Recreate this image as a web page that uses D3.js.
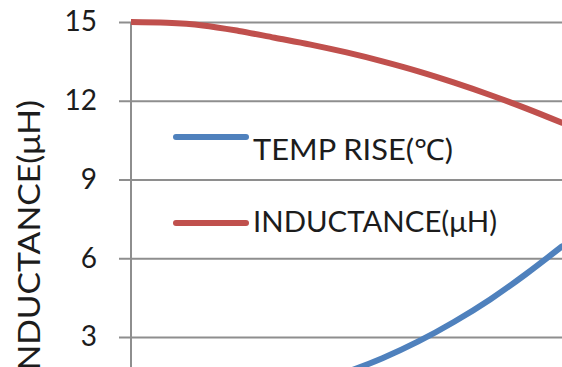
<!DOCTYPE html>
<html>
<head>
<meta charset="utf-8">
<script src="https://cdn.jsdelivr.net/npm/d3@7"></script>
<style>
  html, body { margin: 0; padding: 0; background: #fff; }
  svg { display: block; }
  text { font-family: Lato, "Open Sans", sans-serif; fill: #1c1c1c; }
</style>
</head>
<body>
<script>
// ---- data ----
const xValues = [0, 0.5, 1, 1.5, 2, 2.5, 3, 3.5, 4, 4.5, 5, 5.5, 6];
const inductance = [15.0, 14.97, 14.87, 14.66, 14.40, 14.14, 13.84, 13.50, 13.12, 12.69, 12.22, 11.71, 11.16];
const tempRise = [0, 0.12, 0.3, 0.55, 0.85, 1.22, 1.66, 2.19, 2.83, 3.58, 4.43, 5.40, 6.45];
const yTicks = [3, 6, 9, 12, 15];
const seriesNames = ["TEMP RISE(\u2103)", "INDUCTANCE(\u03bcH)"];
const seriesColors = ["#4F81BD", "#C0504D"];
const yTitle = "INDUCTANCE(\u03bcH)";

const W = 562, H = 367;
const svg = d3.select("body").append("svg").attr("width", W).attr("height", H);

const x0 = 131, x1 = 562;
const x = d3.scaleLinear().domain([0, 6]).range([x0, x1]);
const y = d3.scaleLinear().domain([0, 15]).range([415.7, 22]);

// gridlines + tick marks + labels
const axis = d3.axisLeft(y).tickValues(yTicks).tickSize(-(x1 - 119)).tickPadding(22).tickFormat(d3.format("d"));
const gAxis = svg.append("g").attr("transform", "translate(119,0)").call(axis);
gAxis.select(".domain").remove();
gAxis.selectAll(".tick line").attr("stroke", "#8e8e8e").attr("stroke-width", 2);
gAxis.selectAll(".tick text").attr("font-size", 28).attr("fill", "#1c1c1c").attr("font-family", "Lato, sans-serif");

// vertical axis line
svg.append("line").attr("x1", x0).attr("x2", x0).attr("y1", y(15)).attr("y2", H + 5)
  .attr("stroke", "#8e8e8e").attr("stroke-width", 2);

// y title (cut off at the bottom edge, as in the reference)
svg.append("text")
  .attr("transform", "translate(40,100) rotate(-90)")
  .attr("text-anchor", "end")
  .attr("font-size", 30)
  .attr("textLength", 280)
  .attr("lengthAdjust", "spacingAndGlyphs")
  .text(yTitle);

// clip
svg.append("clipPath").attr("id", "clip").append("rect")
  .attr("x", x0).attr("y", 0).attr("width", x1 - x0 + 10).attr("height", 420);

const line = d3.line().x((d, i) => x(xValues[i])).y(d => y(d)).curve(d3.curveMonotoneX);
const plot = svg.append("g").attr("clip-path", "url(#clip)");
[tempRise, inductance].forEach((s, i) => {
  plot.append("path").datum(s).attr("d", line).attr("fill", "none")
    .attr("stroke", seriesColors[i]).attr("stroke-width", 6).attr("stroke-linecap", "round");
});

// legend
const legY = [137, 223];
const legTextY = [160, 232];
const legLen = [200, 244];
seriesNames.forEach((n, i) => {
  svg.append("line").attr("x1", 176).attr("x2", 246).attr("y1", legY[i]).attr("y2", legY[i])
    .attr("stroke", seriesColors[i]).attr("stroke-width", 6).attr("stroke-linecap", "round");
  svg.append("text").attr("x", 253).attr("y", legTextY[i]).attr("font-size", 29)
    .attr("textLength", legLen[i]).attr("lengthAdjust", "spacingAndGlyphs").text(n);
});
</script>
</body>
</html>
